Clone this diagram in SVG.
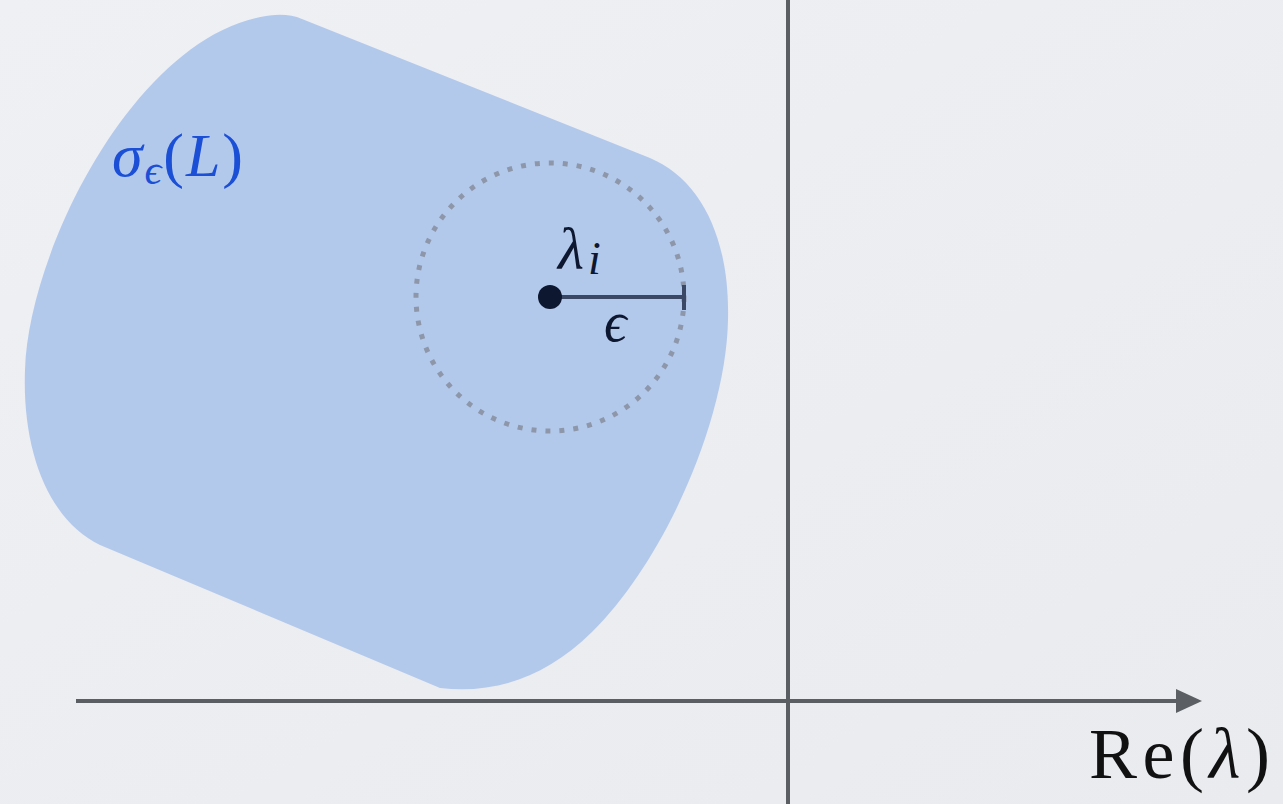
<svg xmlns="http://www.w3.org/2000/svg" width="1283" height="804" viewBox="0 0 1283 804">
<defs>
<linearGradient id="bg" x1="0" y1="0" x2="1" y2="1">
<stop offset="0" stop-color="#eff0f4"/>
<stop offset="1" stop-color="#e9ebef"/>
</linearGradient>
<style>
.axis{stroke:#5b5e62;stroke-width:4;fill:none}
.math{font-family:"Liberation Serif","DejaVu Serif",serif;font-style:italic}
.roman{font-family:"Liberation Serif","DejaVu Serif",serif}
</style>
</defs>
<rect width="1283" height="804" fill="url(#bg)"/>
<g id="pseudospectrum">
<path d="M 302 19 L 650 158 C 702 180, 730 240, 728 320 C 726 420, 665 560, 592 632 C 545 678, 495 694, 440 688 L 100 545 C 48 520, 22 450, 25 370 C 28 250, 140 26, 275 15 Q 290 14, 302 19 Z" fill="#b3c9ec"/>
<text class="math" x="112" y="176" font-size="62" fill="#1b4fd6" textLength="131" lengthAdjust="spacing">σ<tspan font-size="42" dy="8">ϵ</tspan><tspan class="roman" font-style="normal" dy="-8">(</tspan>L<tspan class="roman" font-style="normal">)</tspan></text>
</g>
<g id="eps-circle">
<circle cx="550" cy="297" r="134" fill="none" stroke="#8d97a9" stroke-width="5" stroke-dasharray="5 9"/>
</g>
<g id="eigenvalue">
<line x1="550" y1="297" x2="684" y2="297" stroke="#3a4865" stroke-width="4"/>
<line x1="684" y1="285" x2="684" y2="310" stroke="#3a4865" stroke-width="4"/>
<circle cx="550" cy="297" r="12" fill="#0d1730"/>
<text class="math" x="558" y="269" font-size="60" fill="#0d1730">λ<tspan font-size="46" dx="4" dy="5">i</tspan></text>
<text class="math" x="604" y="341" font-size="56" fill="#0d1730">ϵ</text>
</g>
<g id="connectors">
<line class="axis" x1="788" y1="0" x2="788" y2="804"/>
<line class="axis" x1="76" y1="701" x2="1180" y2="701"/>
<path d="M1176 689 L1202 701 L1176 713 Z" fill="#5b5e62"/>
</g>
<g id="axis-label">
<text class="roman" x="1089" y="778" font-size="72" fill="#111" textLength="181" lengthAdjust="spacing">Re(<tspan class="math">λ</tspan>)</text>
</g>
</svg>
